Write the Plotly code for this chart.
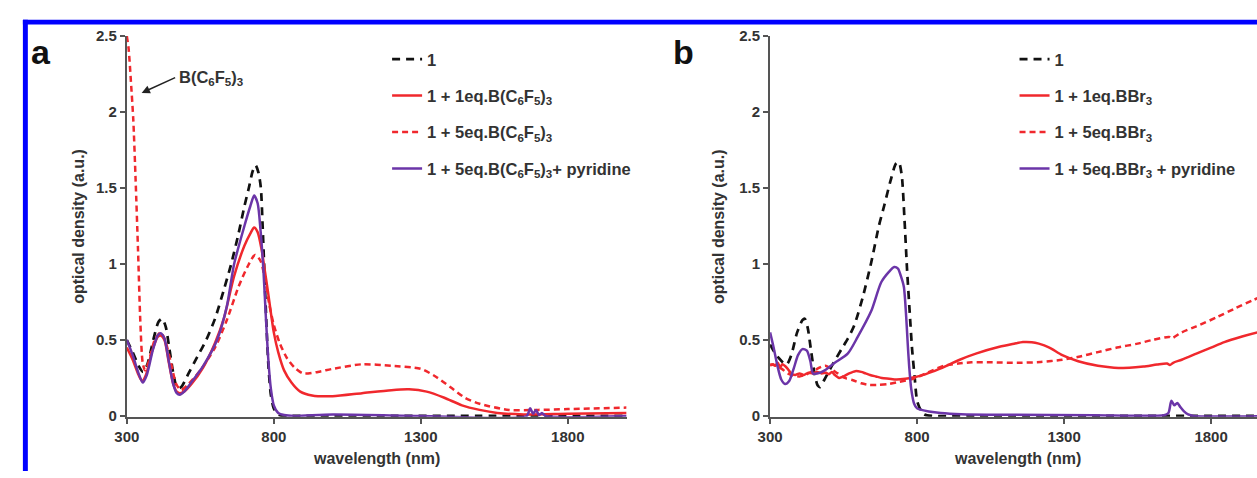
import plotly.graph_objects as go

W, H = 1257, 478

# ---------- panel a : 1 with B(C6F5)3 ----------
a_wl_1 = [300, 320, 340, 355, 370, 390, 408, 420, 432, 445, 460, 472, 485, 510, 540, 570, 600, 630,
          655, 680, 700, 715, 728, 738, 748, 756, 762, 768, 775, 782, 790, 800, 815, 830, 860, 1000,
          1200, 1500, 2000]
a_od_1 = [0.50, 0.42, 0.33, 0.29, 0.34, 0.50, 0.62, 0.64, 0.59, 0.44, 0.26, 0.18, 0.19, 0.28, 0.39,
          0.50, 0.64, 0.83, 1.00, 1.20, 1.38, 1.50, 1.61, 1.65, 1.60, 1.50, 1.25, 0.95, 0.60, 0.32,
          0.14, 0.05, 0.01, 0.0, 0.0, 0.0, 0.0, 0.0, 0.0]

a_wl_1eq = [300, 320, 340, 352, 365, 385, 405, 415, 428, 442, 458, 470, 480, 495, 520, 560, 600, 630,
            665, 700, 720, 733, 745, 758, 770, 780, 790, 800, 815, 835, 860, 890, 930, 1000, 1100,
            1200, 1260, 1320, 1380, 1440, 1500, 1560, 1650, 1800, 2000]
a_od_1eq = [0.45, 0.37, 0.27, 0.23, 0.27, 0.42, 0.52, 0.53, 0.50, 0.36, 0.21, 0.16, 0.15, 0.16, 0.21,
            0.32, 0.48, 0.64, 0.92, 1.12, 1.20, 1.24, 1.21, 1.10, 0.95, 0.82, 0.68, 0.55, 0.42, 0.30,
            0.22, 0.16, 0.135, 0.13, 0.15, 0.17, 0.175, 0.16, 0.12, 0.07, 0.04, 0.02, 0.01, 0.015, 0.02]

a_wl_5eq = [300, 306, 314, 322, 330, 338, 346, 354, 362, 375, 395, 415, 430, 450, 468, 485, 510, 550,
            600, 640, 680, 710, 736, 755, 770, 785, 800, 820, 845, 870, 900, 950, 1000, 1100, 1200,
            1300, 1350, 1400, 1450, 1500, 1600, 1700, 1800, 2000]
a_od_5eq = [2.50, 2.42, 2.20, 1.95, 1.55, 1.10, 0.62, 0.35, 0.30, 0.36, 0.50, 0.55, 0.50, 0.35, 0.21,
            0.17, 0.21, 0.30, 0.45, 0.63, 0.85, 0.98, 1.06, 1.02, 0.90, 0.73, 0.60, 0.48, 0.38, 0.32,
            0.28, 0.29, 0.31, 0.34, 0.33, 0.31, 0.26, 0.19, 0.12, 0.08, 0.04, 0.04, 0.045, 0.055]

a_wl_pyr = [300, 320, 340, 354, 368, 388, 405, 415, 428, 442, 458, 470, 480, 495, 519, 560, 607, 640,
            665, 700, 720, 733, 745, 755, 765, 773, 781, 790, 800, 815, 835, 870, 1000, 1300, 1660,
            1672, 1682, 1692, 1702, 1712, 1725, 2000]
a_od_pyr = [0.50, 0.40, 0.28, 0.22, 0.27, 0.43, 0.53, 0.545, 0.51, 0.37, 0.21, 0.15, 0.14, 0.16, 0.22,
            0.33, 0.50, 0.72, 1.00, 1.25, 1.38, 1.45, 1.40, 1.22, 0.95, 0.65, 0.38, 0.18, 0.07, 0.02,
            0.006, 0.0, 0.01, 0.0, 0.0, 0.05, 0.015, 0.04, 0.005, 0.02, 0.0, 0.0]

# ---------- panel b : 1 with BBr3 ----------
b_wl_1 = [300, 315, 330, 345, 357, 372, 392, 410, 418, 428, 440, 452, 462, 470, 485, 510, 543, 565,
          587, 615, 644, 670, 689, 710, 728, 738, 748, 757, 766, 775, 783, 792, 800, 812, 824, 850,
          1000, 2000]
b_od_1 = [0.47, 0.42, 0.38, 0.35, 0.34, 0.40, 0.55, 0.63, 0.64, 0.58, 0.42, 0.27, 0.20, 0.19, 0.24,
          0.33, 0.44, 0.51, 0.60, 0.78, 1.01, 1.25, 1.39, 1.55, 1.66, 1.67, 1.58, 1.30, 0.96, 0.68,
          0.44, 0.25, 0.10, 0.04, 0.01, 0.0, 0.0, 0.0]

b_wl_1eq = [300, 310, 318, 326, 334, 342, 350, 360, 372, 385, 400, 415, 430, 445, 460, 475, 490, 500,
            510, 520, 535, 550, 569, 590, 610, 625, 640, 660, 680, 705, 730, 760, 790, 811, 850, 900,
            945, 1000, 1080, 1130, 1160, 1190, 1214, 1250, 1294, 1348, 1415, 1470, 1522, 1570, 1616,
            1650, 1660, 1671, 1700, 1750, 1800, 1845, 1900, 1977]
b_od_1eq = [0.33, 0.34, 0.33, 0.35, 0.32, 0.34, 0.33, 0.31, 0.28, 0.27, 0.28, 0.27, 0.285, 0.28, 0.29,
            0.28, 0.285, 0.275, 0.29, 0.27, 0.25, 0.26, 0.28, 0.295, 0.29, 0.28, 0.27, 0.26, 0.25,
            0.245, 0.24, 0.245, 0.255, 0.264, 0.29, 0.33, 0.37, 0.41, 0.455, 0.475, 0.486, 0.485,
            0.476, 0.45, 0.40, 0.36, 0.33, 0.318, 0.317, 0.325, 0.338, 0.345, 0.335, 0.35, 0.37, 0.41,
            0.45, 0.486, 0.52, 0.56]

b_wl_5eq = [300, 320, 340, 360, 380, 400, 420, 440, 460, 475, 488, 500, 515, 530, 554, 582, 610, 636,
            670, 703, 740, 784, 830, 891, 940, 985, 1050, 1147, 1220, 1294, 1350, 1415, 1480, 1550,
            1600, 1657, 1665, 1700, 1750, 1820, 1884, 1940, 1977]
b_od_5eq = [0.34, 0.33, 0.31, 0.28, 0.265, 0.26, 0.27, 0.29, 0.31, 0.325, 0.33, 0.32, 0.30, 0.28,
            0.25, 0.235, 0.215, 0.205, 0.205, 0.21, 0.225, 0.243, 0.28, 0.33, 0.345, 0.353, 0.353,
            0.35, 0.355, 0.37, 0.39, 0.42, 0.45, 0.476, 0.50, 0.52, 0.51, 0.55, 0.59, 0.65, 0.71,
            0.76, 0.79]

b_wl_pyr = [300, 312, 325, 338, 351, 365, 380, 395, 410, 425, 437, 446, 460, 486, 520, 564, 598, 644,
            678, 705, 722, 735, 745, 755, 763, 768, 773, 780, 790, 800, 815, 840, 880, 950, 1100,
            1400, 1640, 1655, 1665, 1675, 1685, 1695, 1708, 1722, 1740, 2000]
b_od_pyr = [0.55, 0.45, 0.33, 0.24, 0.21, 0.23, 0.31, 0.40, 0.44, 0.43, 0.36, 0.28, 0.28, 0.30, 0.35,
            0.41, 0.52, 0.69, 0.88, 0.95, 0.98, 0.97, 0.92, 0.85, 0.65, 0.48, 0.33, 0.18, 0.08, 0.05,
            0.04, 0.03, 0.02, 0.012, 0.008, 0.005, 0.005, 0.02, 0.10, 0.07, 0.085, 0.06, 0.03, 0.01,
            0.0, 0.0]

x_ticks = [300, 800, 1300, 1800]
y_ticks = [0, 0.5, 1, 1.5, 2, 2.5]
y_tick_text = ["0", "0.5", "1", "1.5", "2", "2.5"]

labels_a = ["1", "1 + 1eq.B(C<sub>6</sub>F<sub>5</sub>)<sub>3</sub>",
            "1 + 5eq.B(C<sub>6</sub>F<sub>5</sub>)<sub>3</sub>",
            "1 + 5eq.B(C<sub>6</sub>F<sub>5</sub>)<sub>3</sub>+ pyridine"]
labels_b = ["1", "1 + 1eq.BBr<sub>3</sub>", "1 + 5eq.BBr<sub>3</sub>",
            "1 + 5eq.BBr<sub>3</sub> + pyridine"]

FONT = "Liberation Sans, Arial, sans-serif"
INK = "#333333"
RED = "#f0282d"
PURPLE = "#6b35a8"
BLACK = "#111111"

styles = [dict(color=BLACK, width=2.7, dash="8px,6px"),
          dict(color=RED, width=2.5),
          dict(color=RED, width=2.5, dash="6px,4px"),
          dict(color=PURPLE, width=2.5)]


def fx(p):
    return p / W


def fy(p):
    return 1 - p / H


fig = go.Figure()

panels = [
    ("x", "y", "legend", labels_a,
     [(a_wl_1, a_od_1), (a_wl_1eq, a_od_1eq), (a_wl_5eq, a_od_5eq), (a_wl_pyr, a_od_pyr)]),
    ("x2", "y2", "legend2", labels_b,
     [(b_wl_1, b_od_1), (b_wl_1eq, b_od_1eq), (b_wl_5eq, b_od_5eq), (b_wl_pyr, b_od_pyr)]),
]
for xa, ya, leg, labels, series in panels:
    for i, ((wl, od), name, st) in enumerate(zip(series, labels, styles)):
        fig.add_trace(go.Scatter(
            x=wl, y=od, name=name, mode="lines", xaxis=xa, yaxis=ya,
            line=dict(shape="spline", smoothing=0.7, **st),
            legend=leg, legendgroup=f"{leg}-{i}", legendrank=i + 1,
        ))

tick_font = dict(family=FONT, size=15, color=INK, weight="bold")
px_per_nm = (620 - 115) / 1700.0

common_x = dict(tickvals=x_ticks, showline=True, linecolor="#555555", linewidth=2,
                ticks="outside", ticklen=5, tickwidth=1.5, tickcolor="#555555",
                showgrid=False, zeroline=False, tickfont=tick_font, layer="below traces")
common_y = dict(tickvals=y_ticks, ticktext=y_tick_text, range=[-0.006, 2.5],
                showline=True, linecolor="#555555", linewidth=2, ticks="outside", ticklen=5,
                tickwidth=1.5, tickcolor="#555555", showgrid=False, zeroline=False,
                tickfont=tick_font, layer="below traces",
                domain=[fy(422), fy(28)])

legend_style = dict(xanchor="left", yanchor="top", bgcolor="rgba(0,0,0,0)",
                    font=dict(family=FONT, size=16.5, color=INK, weight="bold"),
                    tracegroupgap=12, itemwidth=30, borderwidth=0)

title_font = dict(family=FONT, size=16, color=INK, weight="bold")
annotations = [
    dict(text="a", x=fx(28), y=fy(45), font=dict(family=FONT, size=34, color="#111", weight="bold")),
    dict(text="b", x=fx(678), y=fy(45), font=dict(family=FONT, size=34, color="#111", weight="bold")),
    dict(text="optical density (a.u.)", x=fx(66), y=fy(225), textangle=-90, font=title_font),
    dict(text="optical density (a.u.)", x=fx(713), y=fy(225), textangle=-90, font=title_font),
    dict(text="wavelength (nm)", x=fx(367), y=fy(465), font=title_font),
    dict(text="wavelength (nm)", x=fx(1015), y=fy(465), font=title_font),
    dict(text="B(C<sub>6</sub>F<sub>5</sub>)<sub>3</sub>", x=fx(166), y=fy(71), xanchor="left",
         font=dict(family=FONT, size=16.5, color=INK, weight="bold")),
]
for a in annotations:
    a.setdefault("xref", "paper")
    a.setdefault("yref", "paper")
    a.setdefault("showarrow", False)
    a.setdefault("xanchor", "center")
    a.setdefault("yanchor", "middle")

annotations.append(dict(x=350.5, y=2.126, xref="x", yref="y", ax=35, ay=-16, text="",
                        showarrow=True, arrowhead=2, arrowsize=1.1, arrowwidth=1.5,
                        arrowcolor="#222222"))

# blue frame along the top and left edges
shapes = [
    dict(type="rect", xref="paper", yref="paper", x0=fx(10), x1=fx(15), y0=0, y1=fy(11),
         fillcolor="#0000ff", line=dict(width=0)),
    dict(type="rect", xref="paper", yref="paper", x0=fx(10), x1=1, y0=fy(16), y1=fy(11),
         fillcolor="#0000ff", line=dict(width=0)),
]

fig.update_layout(
    width=W, height=H, margin=dict(l=0, r=0, t=0, b=0),
    paper_bgcolor="white", plot_bgcolor="white",
    xaxis=dict(domain=[fx(115), fx(620)], range=[300, 2000], anchor="y", **common_x),
    yaxis=dict(anchor="x", **common_y),
    xaxis2=dict(domain=[fx(765), 1.0], range=[300, 300 + (W - 765) / px_per_nm], anchor="y2",
                **common_x),
    yaxis2=dict(anchor="x2", **common_y),
    legend=dict(x=fx(378), y=fy(34), **legend_style),
    legend2=dict(x=fx(1012), y=fy(34), **legend_style),
    annotations=annotations,
    shapes=shapes,
    showlegend=True,
)

fig.write_html("out.html")
